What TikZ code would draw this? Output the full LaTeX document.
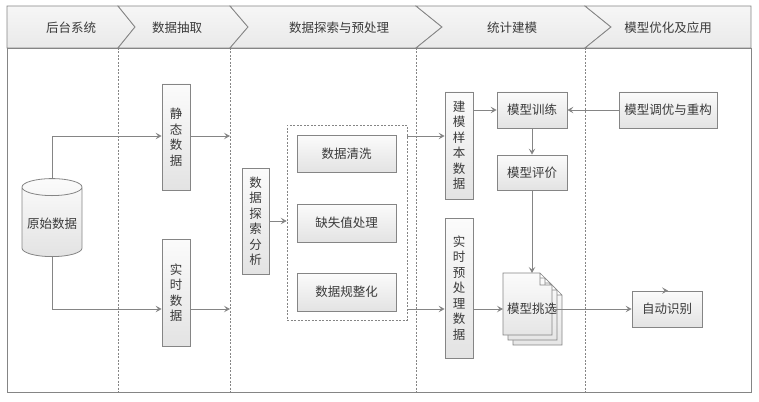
\documentclass[tikz,border=0pt]{standalone}
\usepackage{fontspec}
\setmainfont{Noto Sans CJK SC}
\usepackage{xcolor}
\usetikzlibrary{arrows.meta,shapes.geometric}
\definecolor{linegray}{HTML}{858585}
\definecolor{textgray}{HTML}{3A3A3A}

\begin{document}
\begin{tikzpicture}[x=1pt,y=-1pt,
  every node/.style={font=\fontsize{12.5}{15.5}\selectfont,text=textgray},
  box/.style={draw=linegray,line width=0.8pt,top color=gray!3,bottom color=gray!22,inner sep=0pt,align=center},
  tallbox/.style={box,minimum width=28pt},
  flatbox/.style={box,minimum height=36pt},
  hdr/.style={draw=linegray,line width=0.8pt,top color=gray!7,bottom color=gray!17},
  lane/.style={draw=linegray,line width=0.5pt,dash pattern=on 2pt off 1.5pt},
  page/.style={draw=linegray,line width=0.6pt,top color=gray!3,bottom color=gray!20},
  flow/.style={draw=linegray,line width=0.8pt,-{Stealth[length=6pt,width=6.5pt,inset=2.5pt]}},
  ]
\useasboundingbox (0,0) rectangle (759,401);
%
\draw[hdr] (7,6) -- (118,6) -- (135,27) -- (118,48) -- (7,48) -- cycle;
\draw[hdr] (118,6) -- (230,6) -- (248,27) -- (230,48) -- (118,48) -- (135,27) -- cycle;
\draw[hdr] (230,6) -- (416,6) -- (442,27) -- (416,48) -- (230,48) -- (248,27) -- cycle;
\draw[hdr] (416,6) -- (585,6) -- (611,27) -- (585,48) -- (416,48) -- (442,27) -- cycle;
\draw[hdr] (585,6) -- (751,6) -- (751,48) -- (585,48) -- (611,27) -- cycle;
\draw[linegray,line width=0.8pt] (7,48) rectangle (751,392);
\foreach \x in {118,230,416,585}
  \draw[lane] (\x,48) -- (\x,392);
%
\node (h1) at (71,28) {后台系统};
\node (h2) at (177,28) {数据抽取};
\node (h3) at (339,28) {数据探索与预处理};
\node (h4) at (512,28) {统计建模};
\node (h5) at (668,28) {模型优化及应用};
%
\coordinate (hi) at (0,136);
\coordinate (lo) at (0,309);
\coordinate (l2) at (230,0);
%
\node[cylinder,shape border rotate=90,aspect=0.3,draw=linegray,line width=0.8pt,
  top color=gray!3,bottom color=gray!22,minimum width=60pt,minimum height=78pt] (src) at (52,224) {原始数据};
\node[tallbox,minimum height=106pt] (s1) at (176,137) {静\\态\\数\\据};
\node[tallbox,minimum height=107pt] (s2) at (176,292.5) {实\\时\\数\\据};
\node[tallbox,minimum width=27pt,minimum height=106pt] (ea) at (255.5,221) {数\\据\\探\\索\\分\\析};
\node[draw=linegray,line width=0.6pt,dash pattern=on 2pt off 1.5pt,minimum width=120pt,minimum height=195pt] (pp) at (347,222.5) {};
\node[box,minimum width=99pt,minimum height=37pt] (c1) at (346.5,153.5) {数据清洗};
\node[box,minimum width=99pt,minimum height=38pt] (c2) at (346.5,223) {缺失值处理};
\node[box,minimum width=99pt,minimum height=38pt] (c3) at (346.5,292) {数据规整化};
\node[tallbox,minimum height=107pt] (ms) at (459,145.5) {建\\模\\样\\本\\数\\据};
\node[tallbox,minimum height=140pt] (rt) at (459,288) {实\\时\\预\\处\\理\\数\\据};
\node[flatbox,minimum width=70pt] (mt) at (532,110) {模型训练};
\node[flatbox,minimum width=70pt,minimum height=35pt] (me) at (532,172.5) {模型评价};
\node[flatbox,minimum width=98pt] (mo) at (668,110) {模型调优与重构};
\node[flatbox,minimum width=70pt] (ar) at (667,309) {自动识别};
%
\coordinate (mxa) at (503,273);
\coordinate (mxb) at (552,335);
\foreach \d in {10,5,0}
  \draw[page] (503+\d,273+\d) -- (540+\d,273+\d) -- (552+\d,285+\d) -- (552+\d,335+\d) -- (503+\d,335+\d) -- cycle
    (540+\d,273+\d) -- (540+\d,285+\d) -- (552+\d,285+\d);
\node (mx) at (532,309) {模型挑选};
%
\draw[flow] (src.north) |- (s1.west |- hi);
\draw[flow] (src.south) |- (s2.west |- lo);
\draw[flow] (s1.east |- hi) -- (l2 |- hi);
\draw[flow] (s2.east |- lo) -- (l2 |- lo);
\draw[flow] (ea.east) -- (pp.west |- ea.east);
\draw[flow] (pp.east |- hi) -- (ms.west |- hi);
\draw[flow] (pp.east |- lo) -- (rt.west |- lo);
\draw[flow] (ms.east |- mt.west) -- (mt.west);
\draw[flow] (mo.west) -- (mt.east);
\draw[flow] (mt.south) -- (me.north);
\draw[flow] (me.south) -- (me.south |- mxa);
\draw[flow] (rt.east |- lo) -- (mxa |- lo);
\draw[flow] (mxb |- lo) -- (ar.west);
\draw[flow] (ar.north) -- (ar.north -| mo.south);
%
\end{tikzpicture}
\end{document}
